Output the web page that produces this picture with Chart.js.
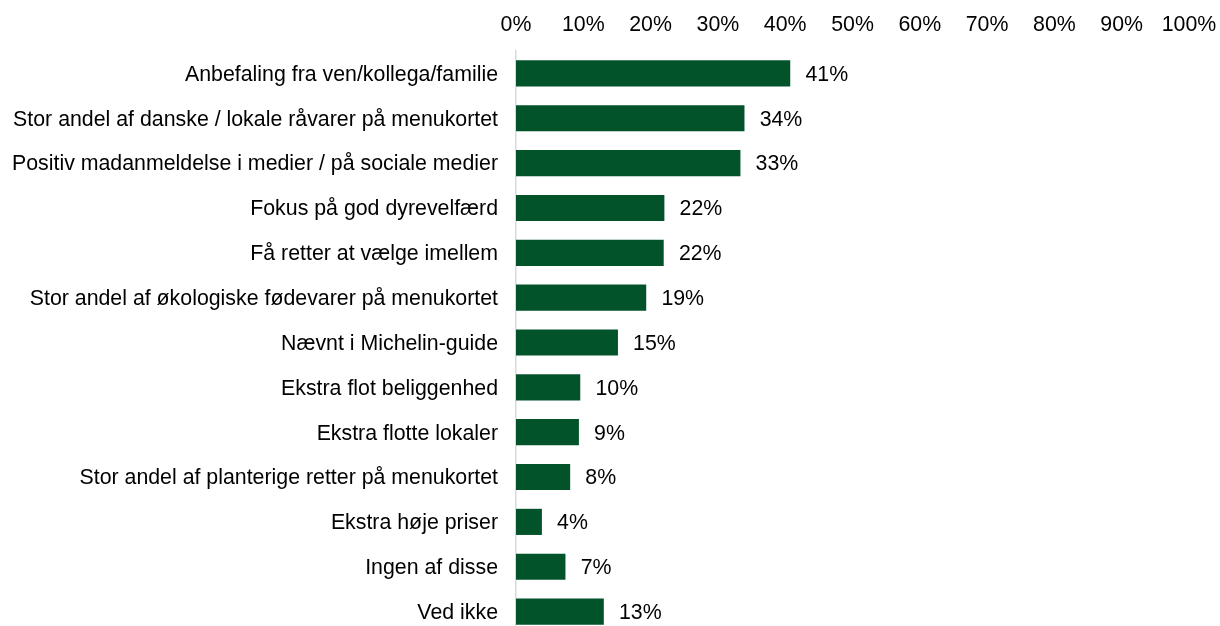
<!DOCTYPE html>
<html>
<head>
<meta charset="utf-8">
<script src="https://cdn.jsdelivr.net/npm/chart.js@4/dist/chart.umd.min.js"></script>
<style>
html,body{margin:0;padding:0;background:#fff;overflow:hidden;}
canvas{display:block;}
</style>
</head>
<body>
<canvas id="c" width="1220" height="634" style="width:1220px;height:634px;"></canvas>
<script>
const categories = [
  "Anbefaling fra ven/kollega/familie",
  "Stor andel af danske / lokale råvarer på menukortet",
  "Positiv madanmeldelse i medier / på sociale medier",
  "Fokus på god dyrevelfærd",
  "Få retter at vælge imellem",
  "Stor andel af økologiske fødevarer på menukortet",
  "Nævnt i Michelin-guide",
  "Ekstra flot beliggenhed",
  "Ekstra flotte lokaler",
  "Stor andel af planterige retter på menukortet",
  "Ekstra høje priser",
  "Ingen af disse",
  "Ved ikke"
];
const values = [40.7, 33.9, 33.3, 22.0, 21.9, 19.3, 15.1, 9.5, 9.3, 8.0, 3.8, 7.3, 13.0];
const valueLabels = ["41%","34%","33%","22%","22%","19%","15%","10%","9%","8%","4%","7%","13%"];
const xTicks = [0,10,20,30,40,50,60,70,80,90,100];

const FONT = "'Liberation Sans', Arial, sans-serif";
const FS = 21.33;

const labelPlugin = {
  id: 'barLabels',
  afterDatasetsDraw(chart) {
    const ctx = chart.ctx;
    const meta = chart.getDatasetMeta(0);
    ctx.save();
    ctx.font = FS + "px " + FONT;
    ctx.fillStyle = "#000";
    ctx.textAlign = "left";
    ctx.textBaseline = "middle";
    meta.data.forEach((bar, i) => {
      ctx.fillText(valueLabels[i], bar.x + 15.5, bar.y + 1.5);
    });
    ctx.restore();
  }
};

new Chart(document.getElementById('c'), {
  type: 'bar',
  data: {
    labels: categories,
    datasets: [{
      data: values,
      backgroundColor: '#03532A',
      borderWidth: 0,
      barThickness: 25.5
    }]
  },
  options: {
    indexAxis: 'y',
    responsive: false,
    animation: false,
    layout: { padding: { left: 0, right: 31, top: 0, bottom: 0 } },
    plugins: { legend: { display: false }, tooltip: { enabled: false } },
    scales: {
      x: {
        position: 'top',
        min: 0, max: 100,
        afterBuildTicks(s) { s.ticks = xTicks.map(v => ({ value: v })); },
        afterFit(s) { s.height = 51; s.paddingLeft = 0; s.paddingRight = 0; },
        grid: { display: false, drawTicks: false },
        border: { display: false },
        ticks: {
          padding: 13,
          color: '#000',
          font: { family: FONT, size: FS },
          maxRotation: 0,
          callback: v => v + '%'
        }
      },
      y: {
        afterFit(s) { s.width = 516; s.paddingTop = 0; s.paddingBottom = 0; },
        grid: { display: false, drawTicks: false },
        border: { display: true, color: '#D9D9D9', width: 1.5 },
        ticks: {
          padding: 18,
          labelOffset: 1.5,
          color: '#000',
          font: { family: FONT, size: FS },
          autoSkip: false
        }
      }
    }
  },
  plugins: [labelPlugin]
});
</script>
</body>
</html>
